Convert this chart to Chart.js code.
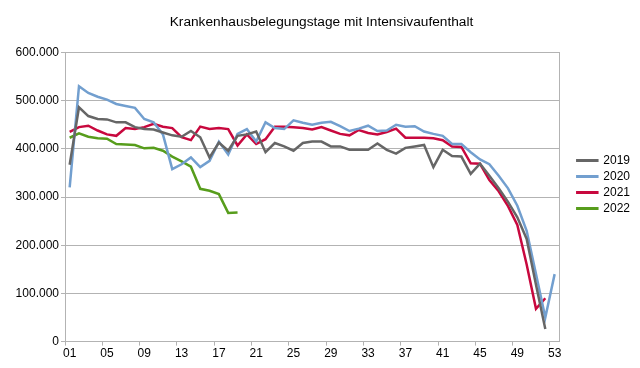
<!DOCTYPE html>
<html>
<head>
<meta charset="utf-8">
<script src="https://cdn.jsdelivr.net/npm/chart.js@4"></script>
<style>
  html, body { margin: 0; padding: 0; background: #fff; }
  #wrap { width: 640px; height: 368px; }
</style>
</head>
<body>
<div id="wrap"><canvas id="belegChart"></canvas></div>
<script>
const weeks = ["01","02","03","04","05","06","07","08","09","10","11","12","13","14","15","16","17","18","19","20",
  "21","22","23","24","25","26","27","28","29","30","31","32","33","34","35","36","37","38","39","40",
  "41","42","43","44","45","46","47","48","49","50","51","52","53"];

const y2019 = [367000, 486000, 468000, 462000, 461000, 455000, 455000, 445000, 441000, 440000,
  434000, 428000, 425000, 437000, 424000, 382000, 413000, 396000, 427000, 430000,
  436000, 393000, 412000, 405000, 396000, 412000, 415000, 415000, 405000, 405000,
  398000, 398000, 398000, 411000, 398000, 390000, 402000, 405000, 408000, 362000,
  398000, 385000, 384000, 348000, 369000, 344000, 318000, 290000, 258000, 213000,
  118000, 26000, null];

const y2020 = [320000, 530000, 516000, 508000, 502000, 493000, 489000, 485000, 462000, 455000,
  430000, 358000, 368000, 382000, 362000, 375000, 415000, 388000, 431000, 441000,
  415000, 455000, 443000, 441000, 459000, 454000, 450000, 454000, 456000, 447000,
  437000, 442000, 448000, 437000, 438000, 450000, 446000, 447000, 436000, 431000,
  427000, 410000, 410000, 393000, 378000, 368000, 344000, 318000, 282000, 230000,
  140000, 50000, 140000];

const y2021 = [435000, 445000, 448000, 438000, 430000, 427000, 443000, 441000, 445000, 452000,
  446000, 443000, 424000, 418000, 446000, 441000, 443000, 441000, 407000, 430000,
  410000, 420000, 446000, 446000, 445000, 443000, 440000, 445000, 438000, 431000,
  428000, 439000, 433000, 430000, 435000, 442000, 423000, 423000, 423000, 422000,
  418000, 405000, 404000, 370000, 369000, 335000, 312000, 281000, 242000, 160000,
  68000, 90000, null];

const y2022 = [423000, 432000, 425000, 422000, 421000, 410000, 409000, 408000, 401000, 402000,
  396000, 384000, 374000, 363000, 317000, 313000, 306000, 267000, 268000];

const yTicks = [0, 100000, 200000, 300000, 400000, 500000, 600000];

const gridColor = "#b3b3b3";
const fontFamily = "'Liberation Sans', Arial, sans-serif";

function fmtDe(v) {
    return String(v).replace(/\B(?=(\d{3})+(?!\d))/g, ".");
}

function makeSet(label, data, color) {
    return {
        label: label,
        data: data,
        borderColor: color,
        backgroundColor: color,
        borderWidth: 2.5,
        pointRadius: 0,
        tension: 0,
        fill: false
    };
}

const ctx = document.getElementById("belegChart");

new Chart(ctx, {
    type: "line",
    data: {
        labels: weeks,
        datasets: [
            makeSet("2019", y2019, "#666666"),
            makeSet("2020", y2020, "#729fcf"),
            makeSet("2021", y2021, "#c8083e"),
            makeSet("2022", y2022, "#579d1c")
        ]
    },
    options: {
        responsive: true,
        maintainAspectRatio: false,
        animation: false,
        layout: {
            padding: { top: 8, right: 0, bottom: 6, left: 3 }
        },
        plugins: {
            title: {
                display: true,
                text: "Krankenhausbelegungstage mit Intensivaufenthalt",
                color: "#000",
                font: { family: fontFamily, size: 13.7, weight: "normal" },
                padding: { top: 6, bottom: 22 }
            },
            legend: {
                position: "right",
                align: "start",
                title: {
                    display: true,
                    text: "",
                    font: { size: 12 },
                    padding: { top: 0, bottom: 128 }
                },
                labels: {
                    boxWidth: 20,
                    boxHeight: 0.5,
                    padding: 4,
                    color: "#000",
                    font: { family: fontFamily, size: 12 }
                }
            },
            tooltip: { enabled: false }
        },
        scales: {
            x: {
                offset: true,
                grid: {
                    offset: true,
                    drawOnChartArea: false,
                    tickLength: 4,
                    color: function (c) {
                        return (c.type === "tick" && c.index % 4 === 0) ? gridColor : "transparent";
                    }
                },
                border: { display: true, color: gridColor },
                ticks: {
                    autoSkip: false,
                    maxRotation: 0,
                    padding: 1,
                    color: "#000",
                    font: { family: fontFamily, size: 12 },
                    callback: function (val, i) {
                        return i % 4 === 0 ? weeks[i] : "";
                    }
                }
            },
            y: {
                min: 0,
                max: 600000,
                afterBuildTicks: function (scale) {
                    scale.ticks = yTicks.map(v => ({ value: v }));
                },
                afterFit: function (scale) { scale.width = 62; },
                grid: { color: gridColor, tickLength: 4 },
                border: { display: true, color: gridColor },
                ticks: {
                    padding: 2,
                    color: "#000",
                    font: { family: fontFamily, size: 12 },
                    callback: function (v) { return fmtDe(v); }
                }
            },
            y2: {
                type: "linear",
                position: "right",
                display: true,
                grid: { drawOnChartArea: false, drawTicks: false },
                border: { display: true, color: gridColor },
                ticks: { display: false },
                afterFit: function (scale) { scale.width = 14; }
            }
        }
    }
});
</script>
</body>
</html>
